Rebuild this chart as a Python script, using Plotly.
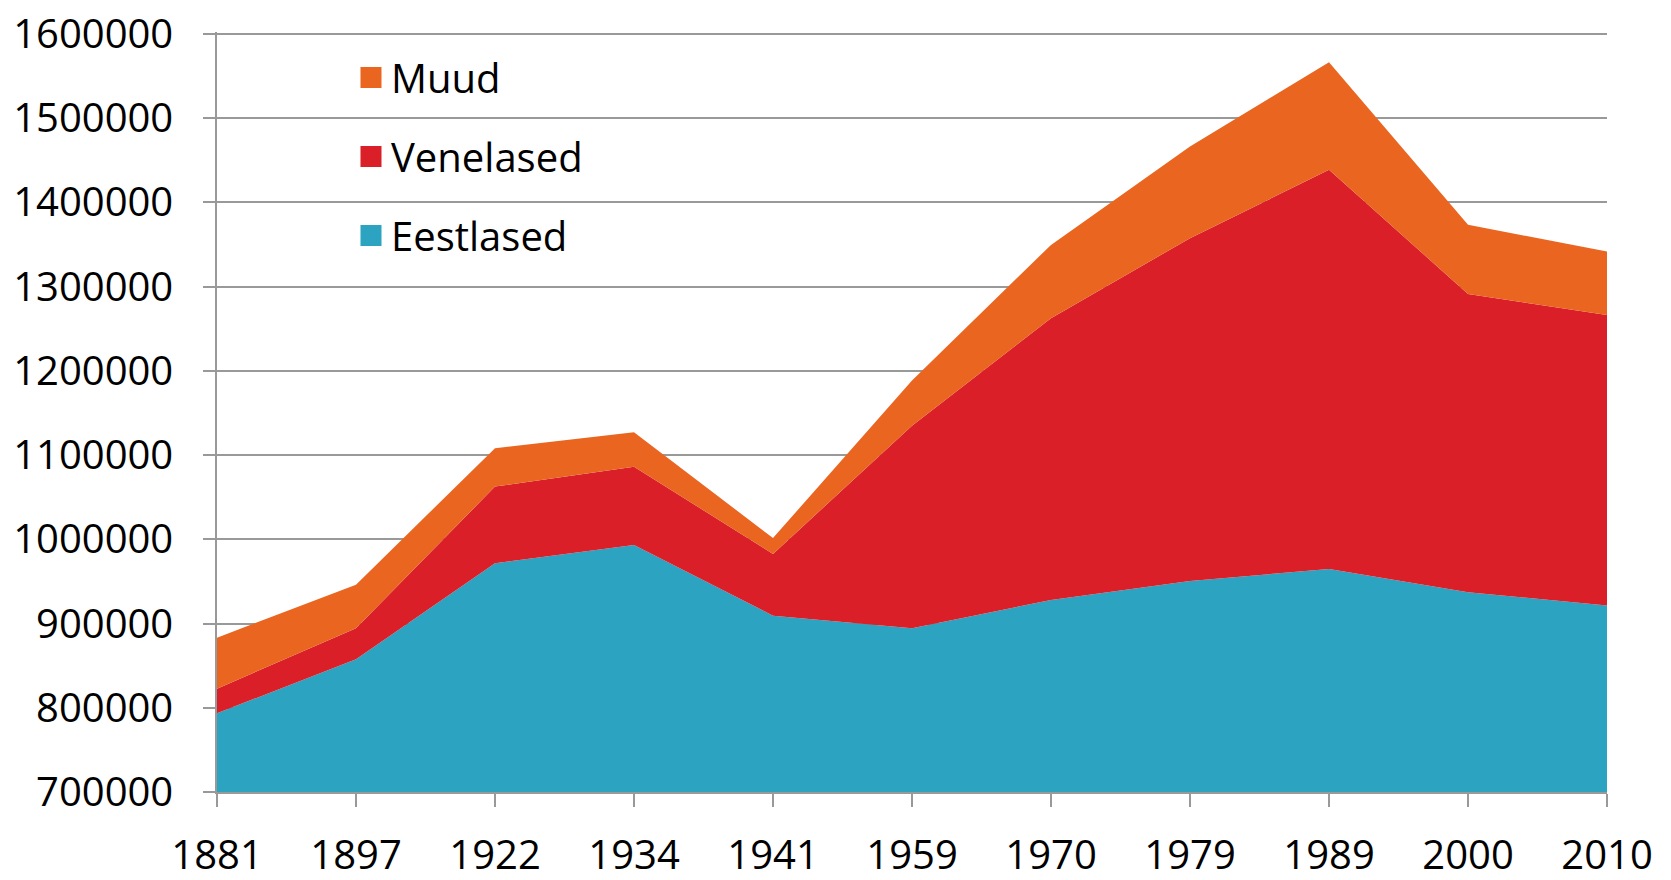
import plotly.graph_objects as go

years = ["1881", "1897", "1922", "1934", "1941", "1959", "1970", "1979", "1989", "2000", "2010"]
eestlased = [793500, 857600, 971600, 993300, 909400, 894400, 928000, 950600, 964800, 937200, 921500]
venelased = [29200, 36800, 91000, 93000, 73200, 240600, 334600, 407000, 473900, 354200, 344800]
muud = [60500, 51800, 45600, 40900, 18900, 53700, 87000, 108800, 127900, 82000, 75500]
y_ticks = [700000, 800000, 900000, 1000000, 1100000, 1200000, 1300000, 1400000, 1500000, 1600000]

series = [
    ("Eestlased", eestlased, "#2ca3c1"),
    ("Venelased", venelased, "#da1f29"),
    ("Muud", muud, "#ea651f"),
]

FONT = "Open Sans"
fig = go.Figure()
for name, vals, col in series:
    fig.add_trace(go.Scatter(
        x=years, y=vals, name=name, stackgroup="one", mode="none",
        fillcolor=col, showlegend=False, hoverinfo="x+y+name",
    ))

# legend entries (square swatches), top to bottom
for name, vals, col in reversed(series):
    fig.add_trace(go.Scatter(
        x=[None], y=[None], name=name, mode="markers", legendgroup=name,
        marker=dict(symbol="square", size=16, color=col,
                    line=dict(color=col, width=5)),
    ))

fig.update_layout(
    width=1671, height=880,
    margin=dict(l=217, r=64, t=32, b=88, autoexpand=False),
    paper_bgcolor="white", plot_bgcolor="white",
    font=dict(family=FONT, size=40, color="black"),
    showlegend=True,
    legend=dict(
        x=0.0964, y=0.983, xanchor="left", yanchor="top",
        bgcolor="rgba(0,0,0,0)", borderwidth=0,
        tracegroupgap=24, font=dict(size=40, family=FONT),
    ),
    xaxis=dict(
        type="category", range=[0, 10], automargin=False,
        showgrid=False, zeroline=False,
        showline=True, linecolor="#999999", linewidth=1.5,
        ticks="outside", ticklen=13, tickcolor="#999999", tickwidth=1.5,
        ticklabelstandoff=14, ticklabeloverflow="allow",
        tickfont=dict(size=40, family=FONT),
    ),
    yaxis=dict(
        # tiny headroom so the 1600000 gridline is drawn inside the plot area
        range=[700000, 1602400],
        tickmode="array", tickvals=y_ticks, ticktext=[str(v) for v in y_ticks],
        automargin=False,
        showgrid=True, gridcolor="#999999", gridwidth=1.5,
        zeroline=False,
        showline=True, linecolor="#999999", linewidth=1.5,
        ticks="outside", ticklen=12, tickcolor="#999999", tickwidth=1.5,
        ticklabelstandoff=22, ticklabeloverflow="allow",
        tickfont=dict(size=40, family=FONT),
    ),
)

# remove the browser's default 8px body margin so the figure fills the window
fig.write_html("out.html", config={"displayModeBar": False},
               post_script="document.body.style.margin='0';")
